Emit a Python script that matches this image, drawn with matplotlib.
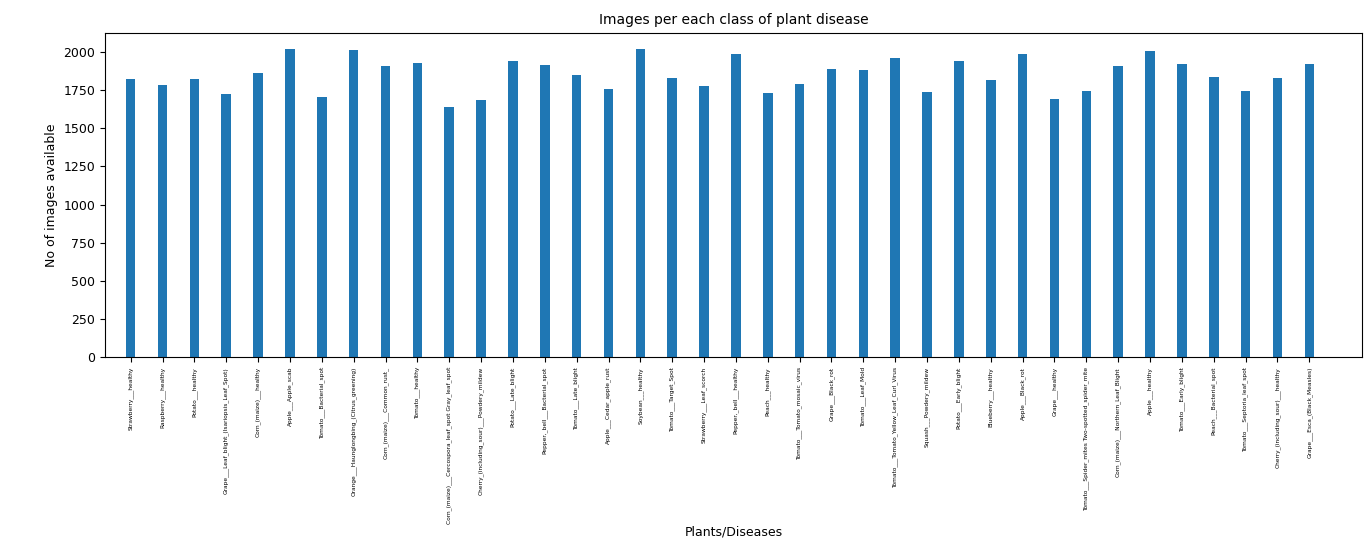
import matplotlib.pyplot as plt
import numpy as np

classes = [
    "Strawberry___healthy", "Raspberry___healthy", "Potato___healthy",
    "Grape___Leaf_blight_(Isariopsis_Leaf_Spot)", "Corn_(maize)___healthy",
    "Apple___Apple_scab", "Tomato___Bacterial_spot",
    "Orange___Haunglongbing_(Citrus_greening)", "Corn_(maize)___Common_rust_",
    "Tomato___healthy", "Corn_(maize)___Cercospora_leaf_spot Gray_leaf_spot",
    "Cherry_(including_sour)___Powdery_mildew", "Potato___Late_blight",
    "Pepper,_bell___Bacterial_spot", "Tomato___Late_blight",
    "Apple___Cedar_apple_rust", "Soybean___healthy", "Tomato___Target_Spot",
    "Strawberry___Leaf_scorch", "Pepper,_bell___healthy", "Peach___healthy",
    "Tomato___Tomato_mosaic_virus", "Grape___Black_rot", "Tomato___Leaf_Mold",
    "Tomato___Tomato_Yellow_Leaf_Curl_Virus", "Squash___Powdery_mildew",
    "Potato___Early_blight", "Blueberry___healthy", "Apple___Black_rot",
    "Grape___healthy", "Tomato___Spider_mites Two-spotted_spider_mite",
    "Corn_(maize)___Northern_Leaf_Blight", "Apple___healthy",
    "Tomato___Early_blight", "Peach___Bacterial_spot",
    "Tomato___Septoria_leaf_spot", "Cherry_(including_sour)___healthy",
    "Grape___Esca_(Black_Measles)",
]
counts = [
    1824, 1781, 1824, 1722, 1859, 2016, 1702, 2010, 1907, 1926,
    1642, 1683, 1939, 1913, 1851, 1760, 2022, 1827, 1774, 1988,
    1728, 1790, 1888, 1882, 1961, 1736, 1939, 1816, 1987, 1692,
    1741, 1908, 2008, 1920, 1838, 1745, 1826, 1920,
]

fig = plt.figure(figsize=(13.66, 5.38), dpi=100)
ax = fig.add_axes([0.077, 0.336, 0.92, 0.603])

x = np.arange(len(classes))
ax.bar(x, counts, width=0.3, color="#1f77b4")
ax.set_xticks(x)
ax.set_xticklabels(classes, rotation=90, fontsize=4.2)
ax.set_xlim(-0.8, len(classes) - 1 + 1.65)
ax.set_ylim(0, 2125)
ax.set_yticks(np.arange(0, 2001, 250))
ax.tick_params(axis="y", labelsize=9)

ax.set_title("Images per each class of plant disease", fontsize=10)
ax.set_ylabel("No of images available", fontsize=9)
ax.set_xlabel("Plants/Diseases", fontsize=9, va="center")
ax.xaxis.set_label_coords(0.5, -0.54)

fig.savefig("out.png", dpi=100)
